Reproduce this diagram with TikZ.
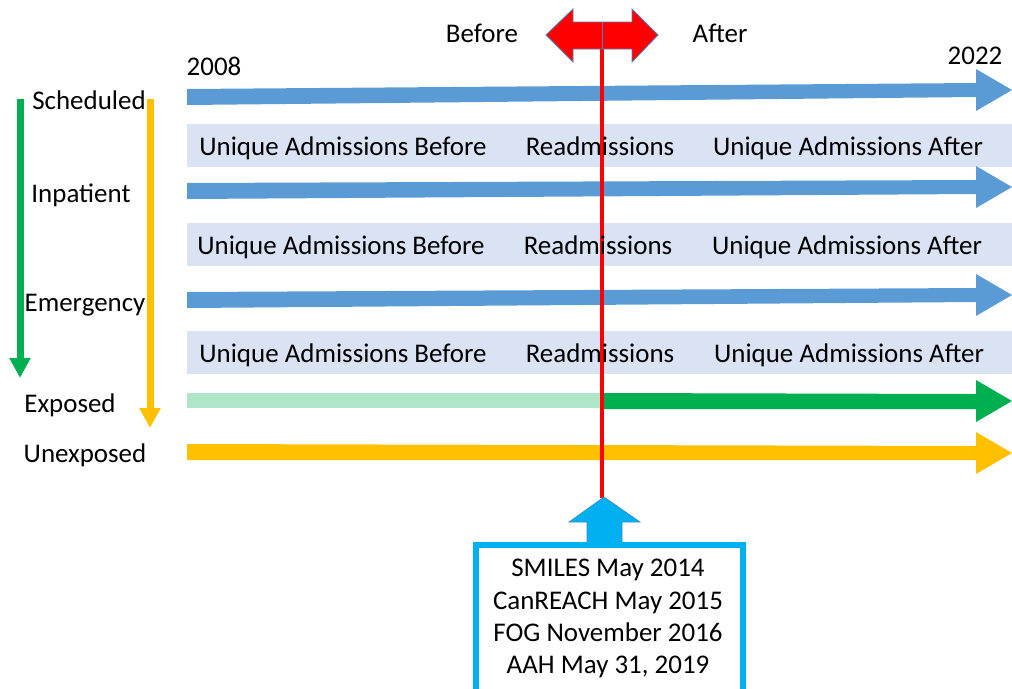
\documentclass[tikz,border=0pt]{standalone}
\usepackage{fontspec}
\setmainfont{Carlito}
\usetikzlibrary{arrows.meta}
\definecolor{barblue}{HTML}{5B9BD5}
\definecolor{bandblue}{HTML}{DAE3F3}
\definecolor{lightgreen}{HTML}{B0E6C8}
\definecolor{dkgreen}{HTML}{00B050}
\definecolor{amber}{HTML}{FFC000}
\definecolor{cyanbox}{HTML}{00B0F0}
\definecolor{outl}{HTML}{4F7FB8}
% block arrow: colour, x-left, y-left-centre, y-right-centre
\newcommand\blockarrow[4]{%
  \fill[#1] (#2,{#3-8}) -- (976,{#4-7}) -- (976,{#4-21}) -- (1012,#4) -- (976,{#4+21}) -- (976,{#4+7}) -- (#2,{#3+8}) -- cycle;}
\begin{document}
\begin{tikzpicture}[x=0.03cm,y=-0.03cm,
  lbl/.style={font=\fontsize{23}{28}\selectfont, inner sep=0pt, text height=0.68em, text depth=0.2em, yshift=-6pt},
  vline/.style={line width=2.1mm},
  vtip/.style={-{Triangle[width=6mm,length=6mm]}}]
\useasboundingbox (0,0) rectangle (1012,688);
\clip (0,0) rectangle (1012,688);

% bands
\fill[bandblue] (187,124) rectangle (1012,167);
\fill[bandblue] (187,223) rectangle (1012,266);
\fill[bandblue] (187,331) rectangle (1012,374);

% horizontal block arrows
\blockarrow{barblue}{187}{97}{90}
\blockarrow{barblue}{187}{191}{187}
\blockarrow{barblue}{187}{300}{295}
\fill[lightgreen] (187,393) rectangle (603,408);
\fill[dkgreen] (603,393) -- (976,394) -- (976,380) -- (1012,401) -- (976,422) -- (976,409) -- (603,409) -- cycle;
\blockarrow{amber}{187}{452}{453}

% red vertical line
\coordinate (rtop) at (602,48);
\coordinate (rbot) at (602,498);
\draw[red, line width=1mm] (rtop) -- (rbot);

% red double arrow
\fill[red, draw=outl, line width=0.25mm]
  (546,35) -- (573,9) -- (573,22) -- (632,22) -- (632,9) -- (658,35)
  -- (632,62) -- (632,49) -- (573,49) -- (573,62) -- cycle;
\draw[outl, line width=0.3mm] (602,22) -- (602,49);

% blue up arrow
\fill[cyanbox, draw=outl!80!cyanbox, line width=0.2mm]
  (604,497) -- (640,522) -- (622,522) -- (622,545) -- (587,545) -- (587,522) -- (569,522) -- cycle;

% info box
\draw[cyanbox, line width=1.8mm] (476,700) -- (476,545) -- (743,545) -- (743,700);
\node[lbl] (s1) at (608,567) {SMILES May 2014};
\node[lbl] (s2) at (608,600) {CanREACH May 2015};
\node[lbl] (s3) at (608,632) {FOG November 2016};
\node[lbl] (s4) at (608,664) {AAH May 31, 2019};

% top labels
\node[lbl] (before) at (482,33) {Before};
\node[lbl] (after) at (720,33) {After};
\node[lbl] (y08) at (214,66) {2008};
\node[lbl] (y22) at (975,55) {2022};

% left labels
\node[lbl] (sch) at (89,100) {Scheduled};
\node[lbl] (inp) at (81,193) {Inpatient};
\node[lbl] (eme) at (85,302) {Emergency};
\node[lbl] (exp) at (70,403) {Exposed};
\node[lbl] (unx) at (85,453) {Unexposed};

% band texts
\node[lbl] (b1a) at (343,146) {Unique Admissions Before};
\node[lbl] (b1b) at (600,146) {Readmissions};
\node[lbl] (b1c) at (848,146) {Unique Admissions After};
\node[lbl] (b2a) at (341,245) {Unique Admissions Before};
\node[lbl] (b2b) at (598,245) {Readmissions};
\node[lbl] (b2c) at (847,245) {Unique Admissions After};
\node[lbl] (b3a) at (343,353) {Unique Admissions Before};
\node[lbl] (b3b) at (600,353) {Readmissions};
\node[lbl] (b3c) at (849,353) {Unique Admissions After};

% vertical arrows
\coordinate (gtop) at (20,99);
\coordinate (gbot) at (20,378);
\draw[dkgreen, vline, vtip] (gtop) -- (gbot);
\coordinate (ytop) at (150,99);
\coordinate (ybot) at (150,428);
\draw[amber, vline, vtip] (ytop) -- (ybot);
\end{tikzpicture}
\end{document}
